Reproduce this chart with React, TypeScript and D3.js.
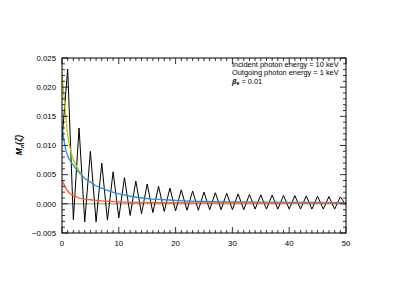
import React from "react";
import * as d3 from "d3";

const blackN: number[] = Array.from({ length: 51 }, (_, i) => i);
const blackM: number[] = [
  0.0110, 0.0231, -0.0027, 0.0130, -0.0031, 0.0090, -0.0031, 0.0070, -0.0028, 0.0055,
  -0.0024, 0.0045, -0.0020, 0.0039, -0.0017, 0.0034, -0.0015, 0.0030, -0.0013, 0.0027,
  -0.0012, 0.0024, -0.0011, 0.0022, -0.0011, 0.0020, -0.0010, 0.0019, -0.0010, 0.0018,
  -0.0010, 0.0017, -0.0010, 0.0016, -0.0009, 0.00155, -0.0009, 0.0015, -0.0009, 0.00145,
  -0.0009, 0.0014, -0.0009, 0.00135, -0.0009, 0.0013, -0.0009, 0.00125, -0.0009, 0.0012,
  -0.0002,
];

const yellowX: number[] = [0, 0.5, 1, 1.5, 2, 2.5, 3, 3.5];
const yellowY: number[] = [0.0222, 0.0168, 0.0118, 0.0092, 0.0076, 0.0065, 0.0057, 0.0050];

const blueX: number[] = [0, 0.5, 1, 1.5, 2, 3, 4, 5, 6, 7, 8, 10, 12, 15, 20, 25, 30, 40, 50];
const blueY: number[] = [0.0133, 0.0100, 0.0082, 0.0073, 0.0066, 0.0054, 0.0044, 0.0037, 0.0031, 0.0027, 0.0023, 0.0017, 0.0013, 0.0009, 0.0006, 0.0004, 0.00033, 0.00025, 0.0002];

const orangeX: number[] = [0, 0.5, 1, 1.5, 2, 3, 4, 5, 7, 10, 15, 20, 30, 50];
const orangeY: number[] = [0.0041, 0.0030, 0.0022, 0.0017, 0.0014, 0.0010, 0.0008, 0.0007, 0.0005, 0.00035, 0.00025, 0.0002, 0.00015, 0.00012];

const xMajor: number[] = [0, 10, 20, 30, 40, 50];
const yMajor: number[] = [-0.005, 0, 0.005, 0.01, 0.015, 0.02, 0.025];
const yLabels: string[] = ["\u22120.005", "0.000", "0.005", "0.010", "0.015", "0.020", "0.025"];
const legendLines: string[] = ["Incident photon energy = 10 keV", "Outgoing photon energy = 1 keV"];

export default function App() {
  const W = 407, H = 291;
  const L = 62, R = 346, T = 58, B = 233;
  const x = d3.scaleLinear().domain([0, 50]).range([L, R]);
  const y = d3.scaleLinear().domain([-0.005, 0.025]).range([B, T]);

  const lin = d3.line<[number, number]>().x(d => x(d[0])).y(d => y(d[1]));
  const smooth = d3.line<[number, number]>().x(d => x(d[0])).y(d => y(d[1])).curve(d3.curveMonotoneX);

  const blackPts = blackN.map((n, i) => [n, blackM[i]] as [number, number]);
  const yellowPts = yellowX.map((v, i) => [v, yellowY[i]] as [number, number]);
  const bluePts = blueX.map((v, i) => [v, blueY[i]] as [number, number]);
  const orangePts = orangeX.map((v, i) => [v, orangeY[i]] as [number, number]);

  const xMinor = d3.range(0, 51, 1);
  const yMinor = d3.range(-5, 26, 1).map(v => v / 1000);
  const font = "'Liberation Sans', Arial, sans-serif";

  return (
    <svg width={W} height={H} style={{ position: "absolute", left: 0, top: 0 }}>
      <rect x={0} y={0} width={W} height={H} fill="#fff" />
      <defs>
        <clipPath id="pc"><rect x={L} y={T} width={R - L} height={B - T} /></clipPath>
      </defs>
      <g clipPath="url(#pc)">
        <line x1={L} x2={R} y1={y(0)} y2={y(0)} stroke="#8a8a8a" strokeWidth={1} />
        <path d={lin(blackPts) || ""} fill="none" stroke="#000" strokeWidth={1} />
        <path d={smooth(yellowPts) || ""} fill="none" stroke="#c8c800" strokeWidth={1.3} />
        <path d={smooth(bluePts) || ""} fill="none" stroke="#1f8fe6" strokeWidth={1.3} />
        <path d={smooth(orangePts) || ""} fill="none" stroke="#ff5a1f" strokeWidth={1.3} />
      </g>
      <rect x={L} y={T} width={R - L} height={B - T} fill="none" stroke="#000" strokeWidth={1} />
      {xMinor.map(v => {
        const major = v % 10 === 0;
        const len = major ? 6 : 3;
        return (
          <g key={"xt" + v}>
            <line x1={x(v)} x2={x(v)} y1={B} y2={B - len} stroke="#000" strokeWidth={0.8} />
            <line x1={x(v)} x2={x(v)} y1={T} y2={T + len} stroke="#000" strokeWidth={0.8} />
          </g>
        );
      })}
      {yMinor.map((v, i) => {
        const major = Math.round(v * 1000) % 5 === 0;
        const len = major ? 6 : 3;
        return (
          <g key={"yt" + i}>
            <line x1={L} x2={L + len} y1={y(v)} y2={y(v)} stroke="#000" strokeWidth={0.8} />
            <line x1={R} x2={R - len} y1={y(v)} y2={y(v)} stroke="#000" strokeWidth={0.8} />
          </g>
        );
      })}
      {xMajor.map(v => (
        <text key={"xl" + v} x={x(v)} y={B + 12.5} textAnchor="middle" fontFamily={font} fontSize={7.8}>{v}</text>
      ))}
      {yMajor.map((v, i) => (
        <text key={"yl" + v} x={L - 6} y={y(v) + 2.8} textAnchor="end" fontFamily={font} fontSize={7.8}>{yLabels[i]}</text>
      ))}
      <text transform={`translate(22,${145}) rotate(-90)`} textAnchor="middle" fontFamily={font} fontSize={8.5} fontWeight="bold" fontStyle="italic">
        M<tspan fontSize={5.5} dy={2}>n</tspan><tspan dy={-2}>(ζ)</tspan>
      </text>
      <g opacity={0.99} fill="#000">
        {legendLines.map((s, i) => (
          <text key={"lg" + i} x={232} y={66.5 + i * 8.6} fontFamily={font} fontSize={7.4} fill="#000">{s}</text>
        ))}
        <text x={232} y={83.7} fontFamily={font} fontSize={7.4} fill="#000">
          <tspan fontWeight="bold" fontStyle="italic">β</tspan><tspan fontWeight="bold" fontStyle="italic" fontSize={5} dy={1.5}>e</tspan><tspan dy={-1.5}> = 0.01</tspan>
        </text>
      </g>
    </svg>
  );
}
